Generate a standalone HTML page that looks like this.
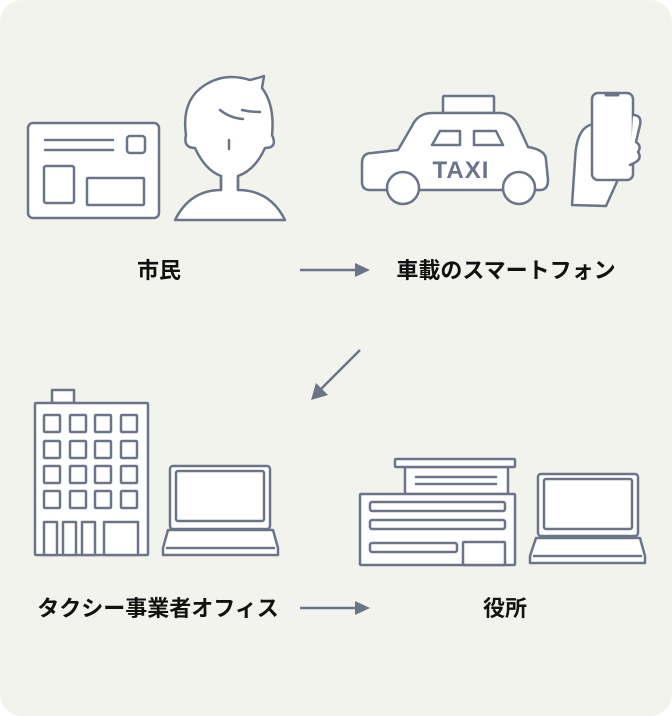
<!DOCTYPE html>
<html><head><meta charset="utf-8"><style>
html,body{margin:0;padding:0;background:#fff;}
svg{display:block}
text{font-family:"Liberation Sans","Noto Sans CJK JP",sans-serif;font-weight:bold;fill:#111;}
</style></head><body>
<svg width="672" height="716" viewBox="0 0 672 716" xmlns="http://www.w3.org/2000/svg">
<rect x="0" y="0" width="672" height="716" rx="22" fill="#f3f3ee"/>
<g fill="#fff" stroke="#6b7488" stroke-width="2.5" stroke-linejoin="round" stroke-linecap="round">
<rect x="28" y="123" width="131" height="95" rx="5"/>
<line x1="45" y1="140" x2="113" y2="140"/><line x1="45" y1="150" x2="113" y2="150"/>
<rect x="127" y="136" width="18" height="17" rx="3"/>
<rect x="44" y="166" width="30" height="37" rx="2"/>
<rect x="87" y="178" width="57" height="27" rx="1"/>
<path d="M175 220 Q190 190 221 190 L221 176 Q205 170 195 148 Q183 148 186 135 Q181 100 205 85 Q225 72 250 80 Q258 78 264 76 L262 88 Q275 105 272 135 Q278 148 265 148 Q255 170 238 176 L238 190 Q270 190 285 220 Z"/>
<path d="M221 176 L221 190 M238 176 L238 190" fill="none"/>
<path d="M220 110 Q230 118 243 119 M242 110 Q250 112 260 112" fill="none"/>
<line x1="229" y1="140" x2="229" y2="149"/>
<rect x="443" y="96" width="51" height="17" rx="1"/>
<path d="M362 163 Q362 153 372 153 L398 150 L412 126 Q418 113 432 113 L500 113 Q512 113 518 125 L528 147 Q546 150 546 160 L548 180 Q548 190 540 190 L370 190 Q362 190 362 182 Z"/>
<path d="M432 145 L440 131 L460 131 L460 145 Z M474 131 L496 131 L503 145 L474 145 Z"/>
<circle cx="403" cy="188" r="16"/><circle cx="519" cy="188" r="16"/>
<path d="M590 125 Q576 130 575 160 L572 205 L606 206 L620 175 L630 160"/>
<rect x="592" y="93" width="41" height="87" rx="6"/>
<path d="M633 115 Q642 115 640 125 L636 142 Q642 146 638 152 Q642 158 636 162 L630 165"/>
<line x1="606" y1="95" x2="618" y2="95" stroke-width="3"/>
<rect x="52" y="390" width="22" height="13"/>
<rect x="35" y="403" width="113" height="152" rx="1"/>
<g>
<rect x="44" y="415" width="16" height="17" rx="1"/><rect x="70" y="415" width="16" height="17" rx="1"/><rect x="95" y="415" width="16" height="17" rx="1"/><rect x="121" y="415" width="16" height="17" rx="1"/>
<rect x="44" y="441" width="16" height="17" rx="1"/><rect x="70" y="441" width="16" height="17" rx="1"/><rect x="95" y="441" width="16" height="17" rx="1"/><rect x="121" y="441" width="16" height="17" rx="1"/>
<rect x="44" y="466" width="16" height="17" rx="1"/><rect x="70" y="466" width="16" height="17" rx="1"/><rect x="95" y="466" width="16" height="17" rx="1"/><rect x="121" y="466" width="16" height="17" rx="1"/>
<rect x="44" y="491" width="16" height="17" rx="1"/><rect x="70" y="491" width="16" height="17" rx="1"/><rect x="95" y="491" width="16" height="17" rx="1"/><rect x="121" y="491" width="16" height="17" rx="1"/>
</g>
<rect x="44" y="522" width="13" height="33"/><rect x="63" y="522" width="13" height="33"/><rect x="82" y="522" width="13" height="33"/><rect x="104" y="522" width="34" height="33"/>
<rect x="170" y="466" width="100" height="63" rx="3"/>
<rect x="176" y="471" width="88" height="50" rx="2"/>
<path d="M168 530 L273 530 L278 548 L278 555 L163 555 L163 548 Z"/>
<line x1="167" y1="548" x2="274" y2="548"/>
<rect x="405" y="467" width="103" height="27"/>
<rect x="395" y="459" width="120" height="8" rx="1"/>
<line x1="416" y1="477" x2="496" y2="477"/><line x1="416" y1="484" x2="496" y2="484"/>
<rect x="360" y="494" width="155" height="71" rx="1"/>
<rect x="370" y="502" width="135" height="9" rx="2"/>
<rect x="370" y="520" width="135" height="9" rx="2"/>
<rect x="370" y="543" width="87" height="9" rx="2"/>
<rect x="463" y="542" width="42" height="23" rx="1"/>
<rect x="538" y="474" width="100" height="62" rx="3"/>
<rect x="544" y="479" width="88" height="50" rx="2"/>
<path d="M536 538 L640 538 L645 556 L645 563 L530 563 L530 556 Z"/>
<line x1="534" y1="556" x2="641" y2="556"/>
</g>
<text x="461" y="178" font-size="24" text-anchor="middle" style="fill:#6b7488;letter-spacing:1px">TAXI</text>
<g stroke="#6b7488" stroke-width="2.5" fill="#6b7488">
<line x1="300" y1="270" x2="358" y2="270"/><path d="M370 270 L355 263 L355 277 Z" stroke="none"/>
<line x1="360" y1="350" x2="320" y2="390"/><path d="M311 400 L316 383 L328 395 Z" stroke="none"/>
<line x1="300" y1="608" x2="358" y2="608"/><path d="M370 608 L355 601 L355 615 Z" stroke="none"/>
</g>
<text x="159" y="278" font-size="22" text-anchor="middle">市民</text>
<text x="506" y="278" font-size="22" text-anchor="middle">車載のスマートフォン</text>
<text x="158" y="616" font-size="22" text-anchor="middle">タクシー事業者オフィス</text>
<text x="505" y="616" font-size="22" text-anchor="middle">役所</text>
</svg>
</body></html>
